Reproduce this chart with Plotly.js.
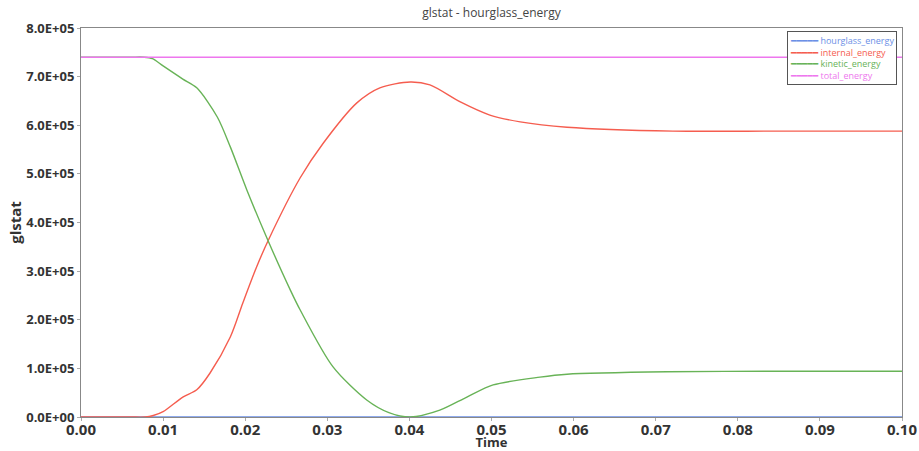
<!DOCTYPE html>
<html>
<head>
<meta charset="utf-8">
<script src="https://cdn.plot.ly/plotly-3.0.1.min.js"></script>
<style>html,body{margin:0;padding:0;background:#fff;}#chart{width:919px;height:451px;}</style>
</head>
<body>
<div id="chart"></div>
<script>
// ---- data ----
const hourglassTime = [0, 0.1];
const hourglassEnergy = [0, 0];

const internalTime = [0, 0.006, 0.0078, 0.0088, 0.01, 0.0124, 0.0141, 0.0157, 0.0182, 0.0197, 0.0214, 0.0228, 0.0267, 0.0295, 0.0336, 0.0364, 0.0401, 0.0425, 0.0462, 0.0498, 0.0535, 0.0592, 0.0721, 0.085, 0.1];
const internalEnergy = [0, 0, 0, 3.0e3, 1.1e4, 4.1e4, 5.6e4, 9.0e4, 1.65e5, 2.34e5, 3.09e5, 3.63e5, 4.92e5, 5.63e5, 6.46e5, 6.77e5, 6.89e5, 6.83e5, 6.48e5, 6.21e5, 6.07e5, 5.96e5, 5.88e5, 5.88e5, 5.88e5];

const kineticTime = [0, 0.006, 0.0077, 0.0087, 0.01, 0.0124, 0.0141, 0.0166, 0.0182, 0.0202, 0.0228, 0.0255, 0.0267, 0.0307, 0.0348, 0.0375, 0.0401, 0.0437, 0.047, 0.0502, 0.0559, 0.0592, 0.0714, 0.085, 0.1];
const kineticEnergy = [7.4e5, 7.4e5, 7.4e5, 7.37e5, 7.22e5, 6.95e5, 6.77e5, 6.17e5, 5.55e5, 4.67e5, 3.62e5, 2.61e5, 2.2e5, 1.03e5, 0.35e5, 0.09e5, 0, 0.14e5, 0.41e5, 0.66e5, 0.82e5, 0.88e5, 0.93e5, 0.94e5, 0.94e5];

const totalTime = [0, 0.1];
const totalEnergy = [7.4e5, 7.4e5];

const seriesNames = ['hourglass_energy', 'internal_energy', 'kinetic_energy', 'total_energy'];
const seriesColors = ['#6b8fe6', '#f55d4f', '#68b357', '#ee77ee'];

const yTickVals = [0, 1e5, 2e5, 3e5, 4e5, 5e5, 6e5, 7e5, 8e5];
const yTickText = ['0.0E+00', '1.0E+05', '2.0E+05', '3.0E+05', '4.0E+05', '5.0E+05', '6.0E+05', '7.0E+05', '8.0E+05'];
const xTickVals = [0, 0.01, 0.02, 0.03, 0.04, 0.05, 0.06, 0.07, 0.08, 0.09, 0.1];
const xTickText = ['0.00', '0.01', '0.02', '0.03', '0.04', '0.05', '0.06', '0.07', '0.08', '0.09', '0.10'];

const xs = [hourglassTime, internalTime, kineticTime, totalTime];
const ys = [hourglassEnergy, internalEnergy, kineticEnergy, totalEnergy];

const traces = seriesNames.map((n, i) => ({
  type: 'scatter',
  mode: 'lines',
  x: xs[i],
  y: ys[i],
  name: n,
  showlegend: false,
  line: {color: seriesColors[i], width: 1.4, shape: 'spline', smoothing: 0.8}
}));

const FONT = '"Open Sans", "Noto Sans", sans-serif';

// legend built as one boxed text block (compact rows like the reference)
const legendText = seriesNames.map((n, i) =>
  '<span style="color:' + seriesColors[i] + '"><span style="font-family:DejaVu Sans">━━━━━</span> ' + n + '</span>'
).join('<br>');

const layout = {
  width: 919, height: 451,
  margin: {l: 81, r: 17, t: 28, b: 34},
  paper_bgcolor: '#ffffff',
  plot_bgcolor: '#ffffff',
  font: {family: FONT, color: '#333'},
  title: {
    text: 'glstat - hourglass_energy',
    font: {family: FONT, size: 12, color: '#444'},
    xref: 'paper', x: 0.5, xanchor: 'center',
    yref: 'container', y: 0.971, yanchor: 'middle'
  },
  xaxis: {
    range: [0, 0.1],
    tickmode: 'array', tickvals: xTickVals, ticktext: xTickText,
    tickfont: {family: FONT, size: 15, weight: 'bold', color: '#333'},
    ticks: 'outside', ticklen: 3, tickcolor: '#aaa',
    ticklabelstandoff: -4,
    showgrid: false, zeroline: false,
    showline: true, linecolor: '#888', linewidth: 1, mirror: true,
    layer: 'below traces',
    automargin: false,
    title: {text: 'Time', font: {family: FONT, size: 13, weight: 'bold', color: '#333'}, standoff: 1}
  },
  yaxis: {
    range: [0, 8e5],
    tickmode: 'array', tickvals: yTickVals, ticktext: yTickText,
    tickfont: {family: FONT, size: 13, weight: 'bold', color: '#333'},
    ticks: 'outside', ticklen: 3, tickcolor: '#aaa',
    showgrid: false, zeroline: false,
    showline: true, linecolor: '#888', linewidth: 1, mirror: true,
    layer: 'below traces',
    automargin: false,
    title: {text: 'glstat', font: {family: FONT, size: 15, weight: 'bold', color: '#333'}, standoff: 0}
  },
  showlegend: false,
  annotations: [{
    xref: 'paper', yref: 'paper',
    x: 0.9939, y: 0.9923, xanchor: 'right', yanchor: 'top',
    text: legendText, align: 'left', showarrow: false,
    font: {family: FONT, size: 9},
    bgcolor: '#ffffff', bordercolor: '#555', borderwidth: 1, borderpad: 2
  }]
};

Plotly.newPlot('chart', traces, layout, {displayModeBar: false, staticPlot: true});
</script>
</body>
</html>
